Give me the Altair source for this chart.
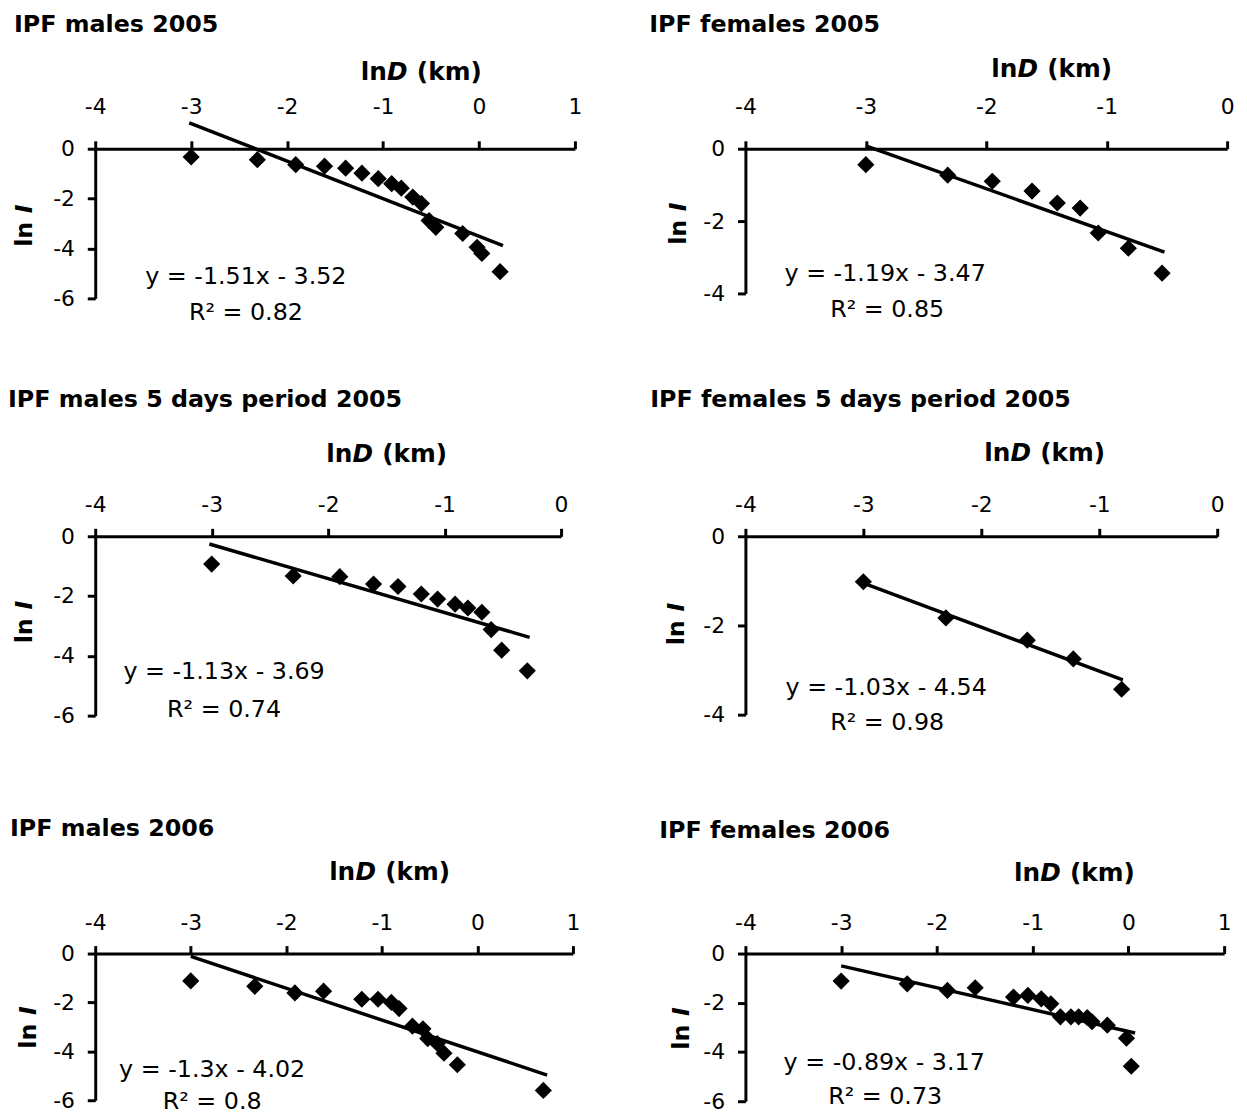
import altair as alt
import pandas as pd

FONT = "DejaVu Sans"

titles = ["IPF males 2005", "IPF females 2005",
          "IPF males 5 days period 2005", "IPF females 5 days period 2005",
          "IPF males 2006", "IPF females 2006"]
equations = ["y = -1.51x - 3.52", "y = -1.19x - 3.47", "y = -1.13x - 3.69",
             "y = -1.03x - 4.54", "y = -1.3x - 4.02", "y = -0.89x - 3.17"]
r_squared = ["R² = 0.82", "R² = 0.85", "R² = 0.74", "R² = 0.98", "R² = 0.8", "R² = 0.73"]

# lnD (x) and lnI (y) for each panel
x_m2005 = [-3.00, -2.31, -1.91, -1.61, -1.39, -1.22, -1.05, -0.91, -0.81, -0.69, -0.60, -0.52, -0.45, -0.17, -0.02, 0.03, 0.22]
y_m2005 = [-0.33, -0.44, -0.64, -0.70, -0.78, -0.98, -1.20, -1.40, -1.58, -1.94, -2.20, -2.88, -3.15, -3.40, -3.95, -4.20, -4.93]
x_f2005 = [-3.00, -2.32, -1.95, -1.62, -1.41, -1.22, -1.07, -0.82, -0.54]
y_f2005 = [-0.44, -0.73, -0.90, -1.17, -1.50, -1.64, -2.33, -2.75, -3.44]
x_m5d = [-3.00, -2.30, -1.90, -1.61, -1.40, -1.20, -1.06, -0.91, -0.80, -0.68, -0.60, -0.51, -0.29]
y_m5d = [-0.93, -1.33, -1.35, -1.60, -1.68, -1.93, -2.10, -2.27, -2.40, -2.54, -3.12, -3.81, -4.50]
x_f5d = [-3.00, -2.30, -1.61, -1.22, -0.81]
y_f5d = [-1.02, -1.83, -2.33, -2.75, -3.43]
x_m2006 = [-3.00, -2.33, -1.91, -1.61, -1.21, -1.04, -0.90, -0.82, -0.68, -0.57, -0.52, -0.42, -0.35, -0.21, 0.69]
y_m2006 = [-1.12, -1.34, -1.61, -1.54, -1.87, -1.87, -2.00, -2.25, -2.97, -3.08, -3.48, -3.68, -4.08, -4.55, -5.60]
x_f2006 = [-3.00, -2.31, -1.89, -1.60, -1.20, -1.05, -0.91, -0.81, -0.71, -0.60, -0.52, -0.43, -0.38, -0.22, -0.02, 0.03]
y_f2006 = [-1.12, -1.23, -1.50, -1.39, -1.77, -1.70, -1.84, -2.04, -2.57, -2.57, -2.57, -2.60, -2.77, -2.91, -3.44, -4.58]

# trend line end points as drawn
line_x = [[-3.02, 0.25], [-3.00, -0.52], [-3.02, -0.27], [-3.00, -0.80], [-3.00, 0.73], [-3.00, 0.07]]
line_y = [[1.04, -3.88], [0.08, -2.86], [-0.26, -3.38], [-1.05, -3.22], [-0.12, -4.97], [-0.50, -3.23]]

xs = [x_m2005, x_f2005, x_m5d, x_f5d, x_m2006, x_f2006]
ys = [y_m2005, y_f2005, y_m5d, y_f5d, y_m2006, y_f2006]

x_ticks_wide = [-4, -3, -2, -1, 0, 1]
x_ticks_narrow = [-4, -3, -2, -1, 0]
y_ticks_6 = [0, -2, -4, -6]
y_ticks_4 = [0, -2, -4]

# layout of each panel (pixels)
specs = [
    dict(w=484, h=151, xd=[-4, 1], yd=[-6, 0], xt=x_ticks_wide, yt=y_ticks_6, lp=28,
         title=(-82, -118), lnd=(268, -69), lni=(-64, 99), eq=(152, 136), r2=(152, 173)),
    dict(w=486, h=146, xd=[-4, 0], yd=[-4, 0], xt=x_ticks_narrow, yt=y_ticks_4, lp=28,
         title=(-97, -118), lnd=(248, -72), lni=(-60, 97), eq=(141, 133), r2=(143, 170)),
    dict(w=470, h=181, xd=[-4, 0], yd=[-6, 0], xt=x_ticks_narrow, yt=y_ticks_6, lp=17,
         title=(-88, -130), lnd=(233, -75), lni=(-64, 108), eq=(130, 144), r2=(130, 182)),
    dict(w=476, h=180, xd=[-4, 0], yd=[-4, 0], xt=x_ticks_narrow, yt=y_ticks_4, lp=17,
         title=(-96, -130), lnd=(241, -76), lni=(-62, 110), eq=(142, 160), r2=(143, 195)),
    dict(w=482, h=148, xd=[-4, 1], yd=[-6, 0], xt=x_ticks_wide, yt=y_ticks_6, lp=16,
         title=(-86, -119), lnd=(236, -74), lni=(-60, 96), eq=(118, 125), r2=(118, 157)),
    dict(w=483, h=149, xd=[-4, 1], yd=[-6, 0], xt=x_ticks_wide, yt=y_ticks_6, lp=16,
         title=(-87, -117), lnd=(271, -73), lni=(-57, 97), eq=(140, 117), r2=(141, 152)),
]


def txt(t, x, y, size, weight="normal", style="normal", align="left", angle=0, baseline="alphabetic"):
    return alt.Chart(alt.Data(values=[{"k": 0}])).mark_text(
        text=t, font=FONT, fontSize=size, fontWeight=weight, fontStyle=style,
        align=align, baseline=baseline, angle=angle, color="black"
    ).encode(x=alt.value(x), y=alt.value(y))


def panel(i):
    s = specs[i]
    df = pd.DataFrame({"x": xs[i], "y": ys[i]})
    ldf = pd.DataFrame({"x": line_x[i], "y": line_y[i]})
    xax = alt.Axis(orient="top", values=s["xt"], title=None, grid=False,
                   domainColor="black", domainWidth=3, tickColor="black", tickWidth=3, tickSize=8,
                   labelFont=FONT, labelFontSize=22, labelColor="black", labelPadding=s["lp"],
                   labelBaseline="alphabetic", labelExpr="'' + datum.value",
                   labelFlush=False, labelOverlap=False)
    yax = alt.Axis(orient="left", values=s["yt"], title=None, grid=False,
                   domainColor="black", domainWidth=3, tickColor="black", tickWidth=3, tickSize=8,
                   labelFont=FONT, labelFontSize=22, labelColor="black", labelPadding=13,
                   labelAlign="right", labelBaseline="middle", labelExpr="'' + datum.value",
                   labelFlush=False, labelOverlap=False)
    xsc = alt.Scale(domain=s["xd"], nice=False, zero=False)
    ysc = alt.Scale(domain=s["yd"], nice=False, zero=False)
    pts = alt.Chart(df).mark_point(shape="diamond", filled=True, color="black", size=300, opacity=1).encode(
        x=alt.X("x:Q", scale=xsc, axis=xax),
        y=alt.Y("y:Q", scale=ysc, axis=yax),
    )
    line = alt.Chart(ldf).mark_line(color="black", strokeWidth=3.5).encode(
        x=alt.X("x:Q", scale=xsc), y=alt.Y("y:Q", scale=ysc)
    )
    tx, ty = s["title"]
    lx, ly = s["lnd"]
    ix, iy = s["lni"]
    ex, ey = s["eq"]
    rx, ry = s["r2"]
    layers = [
        pts, line,
        txt(titles[i], tx, ty, 24, weight="bold"),
        txt("ln", lx, ly, 25, weight="bold"),
        txt("D", lx + 26.5, ly, 25, weight="bold", style="italic"),
        txt("(km)", lx + 26.5 + 21 + 9, ly, 25, weight="bold"),
        txt("ln", ix, iy, 24, weight="bold", angle=270),
        txt("I", ix, iy - 25.5 - 8.5, 24, weight="bold", style="italic", angle=270),
        txt(equations[i], ex, ey, 24, align="center"),
        txt(r_squared[i], rx, ry, 24, align="center"),
    ]
    return alt.layer(*layers).properties(width=s["w"], height=s["h"])


chart = alt.concat(
    *[panel(i) for i in range(6)],
    columns=2,
    spacing={"row": 240, "column": 172},
    bounds="flush",
    align="each",
).properties(
    padding={"left": 0, "top": 0, "right": 5, "bottom": 5}
).configure_view(stroke=None)

chart.save("out.html", embed_options={"renderer": "svg", "actions": False})
